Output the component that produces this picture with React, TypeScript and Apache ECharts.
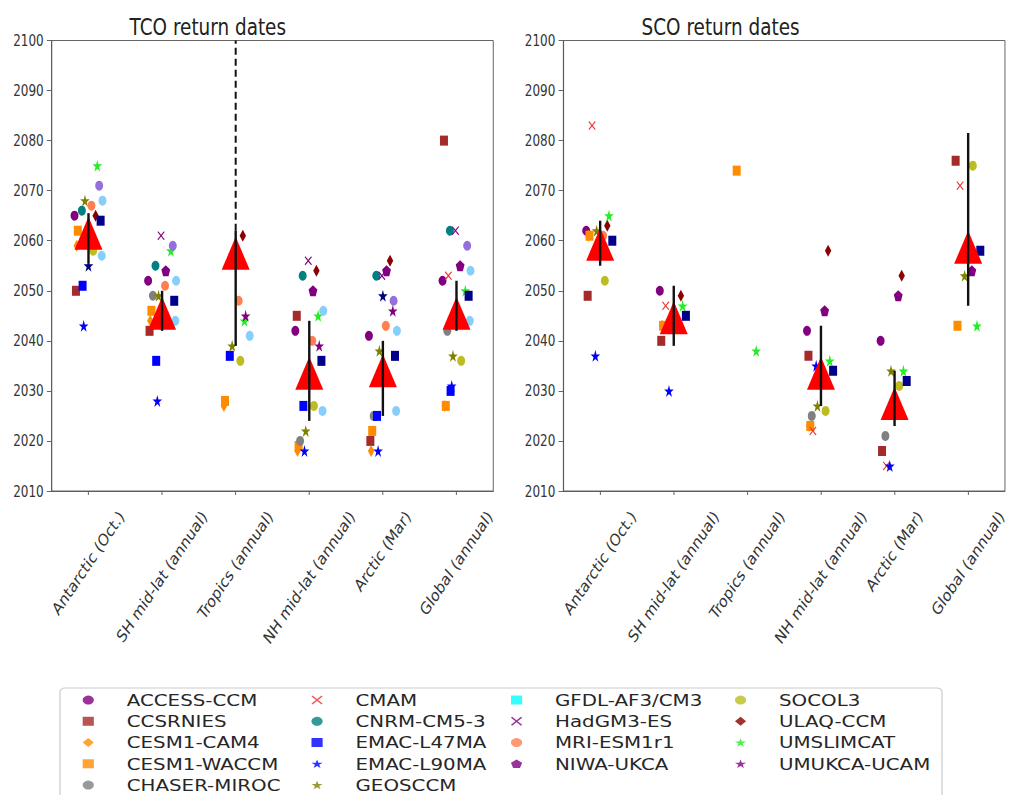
import React, { useEffect, useRef } from "react";
import * as echarts from "echarts";

// ---------- data ----------
const regions = [
  "Antarctic (Oct.)",
  "SH mid-lat (annual)",
  "Tropics (annual)",
  "NH mid-lat (annual)",
  "Arctic (Mar)",
  "Global (annual)",
];

const models = [
  "ACCESS-CCM", "CCSRNIES", "CESM1-CAM4", "CESM1-WACCM", "CHASER-MIROC",
  "CMAM", "CNRM-CM5-3", "EMAC-L47MA", "EMAC-L90MA", "GEOSCCM",
  "GFDL-AF3/CM3", "HadGM3-ES", "MRI-ESM1r1", "NIWA-UKCA", "SOCOL3",
  "ULAQ-CCM", "UMSLIMCAT", "UMUKCA-UCAM",
  "unlisted-1", "unlisted-2", "unlisted-3", "unlisted-4", "unlisted-5",
];
const legendCount = 18;

const N = null;
// TCO return dates per region (aligned with models)
const tcoAntarctic = [2065, 2050, 2059, 2062, N, N, 2066, 2051, 2043, 2068, N, N, 2067, N, 2058, 2065, 2075, N, 2071, 2064, 2068, 2057, 2055];
const tcoSHMid = [2052, 2042, 2044, 2046, 2049, N, 2055, 2036, 2028, 2049, N, 2061, 2051, 2054, N, N, 2058, N, 2059, 2048, 2052, 2044, N];
const tcoTropics = [N, N, 2027, 2028, N, N, N, 2037, N, 2039, N, N, 2048, N, 2036, 2061, 2044, 2045, N, N, 2041, N, N];
const tcoNHMid = [2042, 2045, 2018, 2019, 2020, N, 2053, 2027, 2018, 2022, N, 2056, 2040, 2050, 2027, 2054, 2045, 2039, N, 2036, 2046, 2026, N];
const tcoArctic = [2041, 2020, 2018, 2022, 2025, N, 2053, 2025, 2018, 2038, N, 2053, 2043, 2054, N, 2056, N, 2046, 2048, 2037, 2042, 2026, 2049];
const tcoGlobal = [2052, 2080, 2027, 2027, 2042, 2053, 2062, 2030, 2031, 2037, N, 2062, N, 2055, 2036, N, 2050, N, 2059, 2049, 2054, 2044, N];

// SCO return dates per region
const scoAntarctic = [2062, 2049, 2061, 2061, N, 2083, N, N, 2037, 2062, N, N, 2061, N, 2052, 2063, 2065, N, N, 2060, N, N, N];
const scoSHMid = [2050, 2040, 2043, 2043, N, 2047, N, N, 2030, 2044, N, N, 2043, N, N, 2049, 2047, N, N, 2045, N, N, N];
const scoTropics = [N, N, N, 2074, N, N, N, N, N, N, N, N, N, N, N, N, 2038, N, N, N, N, N, N];
const scoNHMid = [2042, 2037, 2023, 2023, 2025, 2022, N, N, 2035, 2027, N, N, N, 2046, 2026, 2058, 2036, N, N, 2034, N, N, N];
const scoArctic = [2040, 2018, N, N, 2021, 2015, N, N, 2015, 2034, N, N, N, 2049, 2031, 2053, 2034, N, N, 2032, N, N, N];
const scoGlobal = [N, 2076, N, 2043, N, 2071, N, N, N, 2053, N, N, N, 2054, 2075, N, 2043, N, N, 2058, N, N, N];

// multi-model mean and range
const tcoMean = [2061.5, 2045.5, 2057.5, 2033.5, 2034, 2045.5];
const tcoLow = [2055.5, 2042, 2039, 2024, 2025, 2042];
const tcoHigh = [2065.5, 2050, 2062, 2044, 2040, 2052];
const tcoOpenEnded = [0, 0, 1, 0, 0, 0];
const scoMean = [2059.3, 2044.6, N, 2033.5, 2027.5, 2058.7];
const scoLow = [2055, 2039, N, 2027, 2023, 2047];
const scoHigh = [2064, 2051, N, 2043, 2034, 2081.5];
const scoOpenEnded = [0, 0, 0, 0, 0, 0];

const yTicks = { min: 2010, max: 2100, step: 10 };

// ---------- styles ----------
const STAR = "path://M0,-1L0.2245,-0.309L0.9511,-0.309L0.3633,0.118L0.5878,0.809L0,0.382L-0.5878,0.809L-0.3633,0.118L-0.9511,-0.309L-0.2245,-0.309Z";
const PENT = "path://M0,-1L0.9511,-0.309L0.5878,0.809L-0.5878,0.809L-0.9511,-0.309Z";
const XMARK = "path://M-1,-0.8L-0.8,-1L0,-0.2L0.8,-1L1,-0.8L0.2,0L1,0.8L0.8,1L0,0.2L-0.8,1L-1,0.8L-0.2,0Z";

const modelOffsets = [-0.19, -0.17, -0.16, -0.145, -0.125, -0.11, -0.09, -0.08, -0.065, -0.048, -0.03, -0.014, 0.04, 0.05, 0.063, 0.097, 0.12, 0.135, 0.145, 0.165, 0.19, 0.18, 0.0];
const modelSymbols = ["circle", "rect", "diamond", "rect", "circle", XMARK, "circle", "rect", STAR, STAR, "rect", XMARK, "circle", PENT, "circle", "diamond", STAR, STAR, "circle", "rect", "circle", "circle", STAR];
const modelColors = ["#800080", "#a52a2a", "#ff8c00", "#ff8c00", "#808080", "#ee3333", "#008080", "#0000ff", "#0000ff", "#808000", "#00ffff", "#800080", "#ff7f50", "#800080", "#bcbd22", "#8b0000", "#22ee22", "#800080", "#9370db", "#00008b", "#87cefa", "#87cefa", "#000080"];

function symSize(sym: string): number | number[] {
  if (sym === "circle") return 10;
  if (sym === "rect") return 10;
  if (sym === "diamond") return [8, 12];
  if (sym === STAR) return 12;
  if (sym === PENT) return 11;
  return 9;
}

const SX = 0.8; // horizontal aspect of the plot panels
const LX = 1.24; // horizontal aspect of the legend panel
const W = 1013;
const FONT = "DejaVu Sans";
const XLABEL_SIZE = 17;
const XLABEL_ROT = 50;

export default function App() {
  const refA = useRef<HTMLDivElement>(null);
  const refB = useRef<HTMLDivElement>(null);

  useEffect(() => {
    const chartA = echarts.init(refA.current!, null, { renderer: "svg" });
    const chartB = echarts.init(refB.current!, null, { renderer: "svg" });

    const ctx = document.createElement("canvas").getContext("2d")!;
    ctx.font = `${XLABEL_SIZE}px "${FONT}"`;
    const rad = (XLABEL_ROT * Math.PI) / 180;
    const rich: Record<string, any> = {};
    regions.forEach((r, i) => {
      const L = ctx.measureText(r).width;
      const d = (L * Math.sin(rad) + XLABEL_SIZE * Math.cos(rad)) / 2;
      rich["r" + i] = {
        padding: [2 * d * Math.cos(rad), 2 * d * Math.sin(rad), 0, 0],
        fontSize: XLABEL_SIZE,
        fontFamily: FONT,
        color: "#333",
      };
    });

    const tcoTable = [tcoAntarctic, tcoSHMid, tcoTropics, tcoNHMid, tcoArctic, tcoGlobal];
    const scoTable = [scoAntarctic, scoSHMid, scoTropics, scoNHMid, scoArctic, scoGlobal];

    const gridLeft = [64.6, 704.2];
    const gridW = 552;
    const gridTop = 40.5;
    const gridH = 450.5;

    const catAxis = (g: number) => ({
      type: "category",
      gridIndex: g,
      data: regions,
      boundaryGap: true,
      axisLine: { show: true, onZero: false, lineStyle: { color: "#555", width: 1 } },
      axisTick: { show: true, alignWithLabel: true, length: 4, lineStyle: { color: "#555" } },
      axisLabel: {
        interval: 0,
        rotate: XLABEL_ROT,
        align: "center",
        verticalAlign: "middle",
        margin: 17,
        formatter: (v: string, i: number) => `{r${i}|${v}}`,
        rich,
      },
      splitLine: { show: false },
    });
    const valXAxis = (g: number) => ({
      type: "value",
      gridIndex: g,
      min: -0.5,
      max: 5.5,
      show: false,
      axisLine: { onZero: false },
    });
    const yAxis = (g: number) => ({
      type: "value",
      gridIndex: g,
      min: yTicks.min,
      max: yTicks.max,
      interval: yTicks.step,
      axisLine: { show: true, onZero: false, lineStyle: { color: "#555", width: 1 } },
      axisTick: { show: true, length: 6, lineStyle: { color: "#555" } },
      axisLabel: { margin: 10, fontSize: 15, fontFamily: FONT, color: "#333", formatter: (v: number) => String(v) },
      splitLine: { show: false },
    });

    const series: any[] = [];
    [tcoTable, scoTable].forEach((table, g) => {
      models.forEach((m, mi) => {
        const data: number[][] = [];
        table.forEach((col, r) => {
          const v = col[mi];
          if (v != null) data.push([r + modelOffsets[mi], v]);
        });
        series.push({
          type: "scatter",
          name: m,
          xAxisIndex: g * 2 + 1,
          yAxisIndex: g,
          symbol: modelSymbols[mi],
          symbolSize: symSize(modelSymbols[mi]),
          itemStyle: { color: modelColors[mi], opacity: 1 },
          data,
          z: 2,
        });
      });
    });

    const meanSets = [
      { mean: tcoMean, low: tcoLow, high: tcoHigh, open: tcoOpenEnded },
      { mean: scoMean, low: scoLow, high: scoHigh, open: scoOpenEnded },
    ];
    meanSets.forEach((s, g) => {
      const tri: number[][] = [];
      const bars: number[][] = [];
      s.mean.forEach((v, r) => {
        if (v != null) tri.push([r, v]);
        if (s.low[r] != null && s.high[r] != null) bars.push([r, s.low[r] as number, s.high[r] as number, s.open[r]]);
      });
      series.push({
        type: "scatter",
        name: "multi-model mean",
        xAxisIndex: g * 2 + 1,
        yAxisIndex: g,
        symbol: "triangle",
        symbolSize: [35, 33],
        itemStyle: { color: "#ff0000", opacity: 1 },
        data: tri,
        z: 3,
      });
      series.push({
        type: "custom",
        name: "range",
        xAxisIndex: g * 2 + 1,
        yAxisIndex: g,
        encode: { x: 0, y: [1, 2] },
        data: bars,
        z: 4,
        renderItem: (params: any, api: any) => {
          const x = api.value(0);
          const p1 = api.coord([x, api.value(1)]);
          const p2 = api.coord([x, api.value(2)]);
          const children: any[] = [
            {
              type: "line",
              shape: { x1: p1[0], y1: p1[1], x2: p2[0], y2: p2[1] },
              style: { stroke: "#111", lineWidth: 3 },
            },
          ];
          if (api.value(3)) {
            const p3 = api.coord([x, yTicks.max]);
            children.push({
              type: "line",
              shape: { x1: p2[0], y1: p2[1], x2: p3[0], y2: p3[1] },
              style: { stroke: "#111", lineWidth: 2.5, lineDash: [7, 4] },
            });
          }
          return { type: "group", children };
        },
      });
    });

    const titleStyle = { fontSize: 23, fontWeight: "normal", fontFamily: FONT, color: "#222" };
    chartA.setOption({
      animation: false,
      backgroundColor: "#fff",
      title: [
        { text: "TCO return dates", left: 157, top: 11, textStyle: titleStyle },
        { text: "SCO return dates", left: 797, top: 11, textStyle: titleStyle },
      ],
      grid: gridLeft.map((l) => ({
        left: l,
        top: gridTop,
        width: gridW,
        height: gridH,
        show: true,
        borderColor: "#555",
        borderWidth: 1,
        backgroundColor: "transparent",
      })),
      xAxis: [catAxis(0), valXAxis(0), catAxis(1), valXAxis(1)],
      yAxis: [yAxis(0), yAxis(1)],
      series,
    });

    // ---------- legend panel ----------
    const colTextStart = [126.7, 355.5, 555, 779].map((v) => v / LX);
    const colGroups = [
      [0, 1, 2, 3, 4],
      [5, 6, 7, 8, 9],
      [10, 11, 12, 13],
      [14, 15, 16, 17],
    ];
    const iconW = 9;
    const markerToText = 31;
    chartB.setOption({
      animation: false,
      grid: { left: 0, top: 0, width: 1, height: 1, show: false },
      xAxis: { type: "value", show: false },
      yAxis: { type: "value", show: false },
      graphic: [
        {
          type: "rect",
          shape: { x: 60 / LX, y: 8, width: (942 - 60) / LX, height: 150, r: 4 },
          style: { fill: "#fff", stroke: "#cccccc", lineWidth: 1 },
          z: 0,
        },
      ],
      legend: colGroups.map((grp, ci) => ({
        orient: "vertical",
        left: colTextStart[ci] - markerToText - iconW / 2,
        top: 9.4,
        height: 140,
        padding: 0,
        itemGap: 0,
        itemWidth: iconW,
        itemHeight: iconW,
        selectedMode: false,
        data: grp.map((i) => models[i]),
        textStyle: {
          fontSize: 16,
          fontFamily: FONT,
          color: "#262626",
          lineHeight: 21.25,
          padding: [0, 0, 0, markerToText - iconW / 2 - 5],
        },
        z: 5,
      })),
      series: models.slice(0, legendCount).map((m, mi) => ({
        type: "scatter",
        name: m,
        symbol: modelSymbols[mi],
        itemStyle: { color: modelColors[mi] },
        data: [],
      })),
    });

    return () => {
      chartA.dispose();
      chartB.dispose();
    };
  }, []);

  return (
    <div style={{ position: "absolute", left: 0, top: 0, width: W, height: 795, overflow: "hidden", background: "#fff" }}>
      <div
        ref={refA}
        style={{ position: "absolute", left: 0, top: 0, width: W / SX, height: 680, transform: `scaleX(${SX})`, transformOrigin: "0 0" }}
      />
      <div
        ref={refB}
        style={{ position: "absolute", left: 0, top: 680, width: W / LX, height: 170, transform: `scaleX(${LX})`, transformOrigin: "0 0" }}
      />
    </div>
  );
}
